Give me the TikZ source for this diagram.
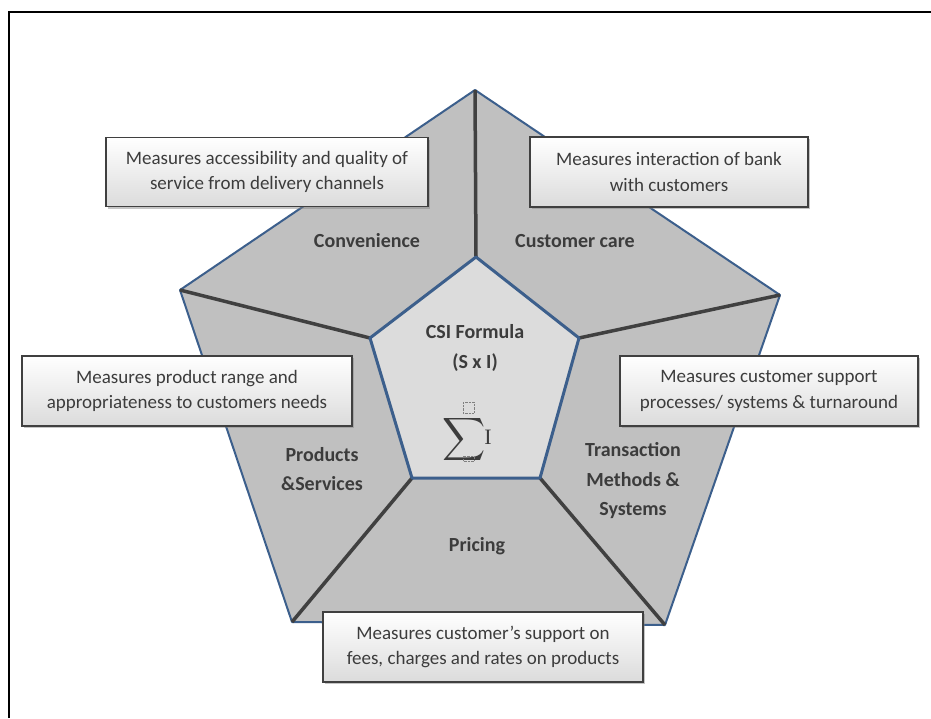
\documentclass[tikz,border=0pt]{standalone}
\usepackage{fontspec}
\setmainfont{Carlito}
\newfontfamily\formulafont{Liberation Serif}
\usetikzlibrary{%
  shadows
}

\definecolor{edgeblue}{RGB}{60,95,140}
\definecolor{outerfill}{RGB}{192,192,192}
\definecolor{innerfill}{RGB}{220,220,220}
\definecolor{divgray}{RGB}{64,64,64}
\definecolor{txtgray}{RGB}{60,60,60}

\begin{document}
\begin{tikzpicture}[x=1pt,y=-1pt,
  infobox/.style={draw=divgray,line width=1.2pt,top color=white,bottom color=gray!28,
    drop shadow={opacity=0.45,shadow xshift=2pt,shadow yshift=-2pt},
    text=txtgray,font=\fontsize{19}{25.5}\selectfont,align=center,inner sep=0pt},
  seglabel/.style={text=txtgray,font=\fontsize{20}{29.5}\selectfont\bfseries,align=center},
  divider/.style={draw=divgray,line width=3.5pt}]

  \useasboundingbox (0,0) rectangle (931,718);
  \fill[white] (0,0) rectangle (931,718);

  % frame
  \draw[line width=2pt] (9,718) -- (9,12) -- (931,12);

  % outer and inner corners
  \coordinate (o1) at (475,90);
  \coordinate (o2) at (780,295);
  \coordinate (o3) at (665,625);
  \coordinate (o4) at (292,622);
  \coordinate (o5) at (180,290);
  \coordinate (i1) at (476,257);
  \coordinate (i2) at (579,338);
  \coordinate (i3) at (540,478);
  \coordinate (i4) at (412,478);
  \coordinate (i5) at (370,338);

  \draw[fill=outerfill,draw=edgeblue,line width=2pt,line join=round]
    (o1) -- (o2) -- (o3) -- (o4) -- (o5) -- cycle;
  \draw[divider] (o1) -- (i1);
  \draw[divider] (o2) -- (i2);
  \draw[divider] (o3) -- (i3);
  \draw[divider] (o4) -- (i4);
  \draw[divider] (o5) -- (i5);
  \draw[fill=innerfill,draw=edgeblue,line width=3pt,line join=round]
    (i1) -- (i2) -- (i3) -- (i4) -- (i5) -- cycle;

  % segment names
  \node[seglabel] (conv) at (367,241) {Convenience};
  \node[seglabel] (care) at (575,241) {Customer care};
  \node[seglabel] (prod) at (322,469) {Products\\\&Services};
  \node[seglabel] (trans) at (633,481) {Transaction\\Methods \&\\Systems};
  \node[seglabel] (price) at (477,546) {Pricing};

  % centre
  \node[seglabel] (csi) at (475,332) {CSI Formula};
  \node[seglabel] (sxi) at (475,363) {(S x I)};
  \node[text=txtgray,inner sep=0pt,scale=3] (sigma) at (464,439) {$\displaystyle\sum$};
  \node[text=txtgray,inner sep=0pt,font=\fontsize{22}{24}\formulafont] (ivar) at (488,437) {I};
  \draw[densely dotted,gray] (463,402) rectangle (474,413);
  \draw[densely dotted,gray] (463,456) rectangle (474,461);

  % descriptions
  \node[infobox,minimum width=322pt,minimum height=69pt] (b1) at (267,172)
    {Measures accessibility and quality of\\service from delivery channels};
  \node[infobox,minimum width=278pt,minimum height=70pt] (b2) at (669,172)
    {Measures interaction of bank\\with customers};
  \node[infobox,minimum width=330pt,minimum height=70pt] (b3) at (187,391)
    {Measures product range and\\appropriateness to customers needs};
  \node[infobox,minimum width=298pt,minimum height=70pt] (b4) at (769,391)
    {Measures customer support\\processes/ systems \& turnaround};
  \node[infobox,minimum width=320pt,minimum height=70pt] (b5) at (483,647)
    {Measures customer’s support on\\fees, charges and rates on products};
\end{tikzpicture}
\end{document}
